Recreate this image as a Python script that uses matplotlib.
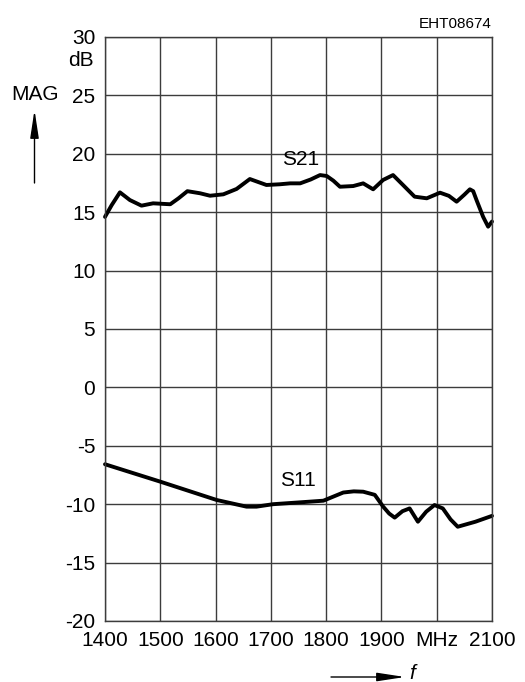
import matplotlib
matplotlib.use("Agg")
import matplotlib.pyplot as plt
from matplotlib.patches import FancyArrowPatch

plt.rcParams['font.family'] = ['Liberation Sans', 'DejaVu Sans']

LABEL_SIZE = 15

# Frequency axis (MHz) and magnitude axis (dB)
x_ticks = [1400, 1500, 1600, 1700, 1800, 1900, 2000, 2100]
x_tick_labels = ["1400", "1500", "1600", "1700", "1800", "1900", "MHz", "2100"]
y_ticks = [30, 25, 20, 15, 10, 5, 0, -5, -10, -15, -20]

# S21 transmission magnitude
s21_freq = [1400, 1412, 1427, 1445, 1466, 1487, 1518, 1533, 1549, 1572, 1590,
            1614, 1638, 1662, 1692, 1716, 1735, 1753, 1772, 1789, 1801, 1813,
            1825, 1849, 1867, 1885, 1903, 1921, 1939, 1960, 1982, 2006, 2022,
            2036, 2050, 2060, 2066, 2072, 2084, 2093, 2100]
s21_mag = [14.6, 15.6, 16.7, 16.04, 15.56, 15.76, 15.68, 16.19, 16.8, 16.62, 16.41,
           16.53, 16.99, 17.84, 17.33, 17.39, 17.47, 17.47, 17.8, 18.18, 18.1, 17.7,
           17.18, 17.24, 17.47, 16.96, 17.76, 18.18, 17.33, 16.33, 16.19, 16.67, 16.4,
           15.9, 16.5, 16.96, 16.8, 16.04, 14.6, 13.76, 14.2]

# S11 reflection magnitude
s11_freq = [1400, 1500, 1602, 1656, 1674, 1704, 1750, 1795, 1813, 1831, 1850,
            1867, 1888, 1903, 1914, 1924, 1938, 1951, 1966, 1981, 1996, 2011,
            2025, 2038, 2070, 2100]
s11_mag = [-6.58, -8.07, -9.64, -10.21, -10.21, -10.0, -9.85, -9.7, -9.35, -9.0, -8.9,
           -8.93, -9.2, -10.2, -10.8, -11.15, -10.6, -10.36, -11.5, -10.64, -10.07, -10.36,
           -11.3, -11.93, -11.5, -11.0]

fig = plt.figure(figsize=(5.25, 6.82), dpi=100)
ax = fig.add_axes([105 / 525, 61 / 682, 387 / 525, 584 / 682])

ax.set_xlim(1400, 2100)
ax.set_ylim(-20, 30)
ax.set_xticks(x_ticks)
ax.set_xticklabels(x_tick_labels)
ax.set_yticks(y_ticks)
ax.set_yticklabels([str(v) for v in y_ticks])
ax.tick_params(length=0, labelsize=LABEL_SIZE, colors='black')
ax.tick_params(axis='y', pad=7)
ax.tick_params(axis='x', pad=7)

ax.grid(True, color='#3c3c3c', linewidth=1.0)
ax.set_axisbelow(True)
for sp in ax.spines.values():
    sp.set_color('#3c3c3c')
    sp.set_linewidth(1.0)

curve_style = dict(color='black', linewidth=2.8, solid_joinstyle='round',
                   solid_capstyle='round', clip_on=False)
ax.plot(s21_freq, s21_mag, **curve_style)
ax.plot(s11_freq, s11_mag, **curve_style)

ax.text(1753, 19.5, "S21", fontsize=LABEL_SIZE, ha='center', va='center')
ax.text(1749, -8.0, "S11", fontsize=LABEL_SIZE, ha='center', va='center')

# Unit and axis names
fig.text(94 / 525, 1 - 60 / 682, "dB", fontsize=LABEL_SIZE, ha='right', va='center')
fig.text(35 / 525, 1 - 94 / 682, "MAG", fontsize=LABEL_SIZE, ha='center', va='center')
fig.text(492 / 525, 1 - 24 / 682, "EHT08674", fontsize=11, ha='right', va='center')
fig.text(409 / 525, 1 - 679 / 682, "f", fontsize=LABEL_SIZE, style='italic',
         ha='left', va='baseline')

# Direction arrows
arrow_style = '-|>,head_length=17,head_width=2.6'
fig.add_artist(FancyArrowPatch(
    (34.5 / 525, 1 - 183 / 682), (34.5 / 525, 1 - 110 / 682),
    transform=fig.transFigure, arrowstyle=arrow_style,
    color='black', linewidth=1.0, shrinkA=0, shrinkB=0))
fig.add_artist(FancyArrowPatch(
    (331 / 525, 1 - 677 / 682), (405 / 525, 1 - 677 / 682),
    transform=fig.transFigure, arrowstyle=arrow_style,
    color='black', linewidth=1.0, shrinkA=0, shrinkB=0))

fig.savefig("out.png", dpi=100)
